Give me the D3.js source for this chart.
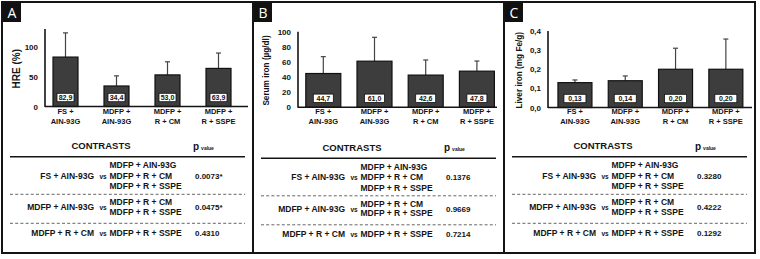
<!DOCTYPE html>
<html><head><meta charset="utf-8">
<script src="https://cdn.jsdelivr.net/npm/d3@7"></script>
<style>
html,body{margin:0;padding:0;background:#fff;}
svg{display:block;font-family:"Liberation Sans",Arial,sans-serif;font-weight:bold;}
</style></head>
<body>
<svg id="chart" width="760" height="259"></svg>
<script>
// ---------- data ----------
const groupLine1 = ["FS +", "MDFP +", "MDFP +", "MDFP +"];
const groupLine2 = ["AIN-93G", "AIN-93G", "R + CM", "R + SSPE"];
const groupKeys = ["g1", "g2", "g3", "g4"];

const hreMeans = [82.9, 34.4, 53.0, 63.9];
const hreSD = [40.6, 17.0, 22.0, 25.8];
const hreTicks = [0, 50, 100];

const serumMeans = [44.7, 61.0, 42.6, 47.8];
const serumSD = [22.3, 31.6, 20.0, 13.4];
const serumTicks = [0, 20, 40, 60, 80, 100];

const liverMeans = [0.13, 0.14, 0.20, 0.20];
const liverSD = [0.014, 0.025, 0.11, 0.158];
const liverTicks = [0, 0.1, 0.2, 0.3, 0.4];

const contrastLeft = ["FS + AIN-93G", "MDFP + AIN-93G", "MDFP + R + CM"];
const contrastRight = [
  ["MDFP + AIN-93G", "MDFP + R + CM", "MDFP + R + SSPE"],
  ["MDFP + R + CM", "MDFP + R + SSPE"],
  ["MDFP + R + SSPE"]
];
const pValuesA = ["0.0073*", "0.0475*", "0.4310"];
const pValuesB = ["0.1376", "0.9669", "0.7214"];
const pValuesC = ["0.3280", "0.4222", "0.1292"];

// ---------- layout ----------
const comma = d3.formatLocale({decimal: ",", thousands: ".", grouping: [3], currency: ["", ""]});
const panels = [
  {letter: "A", x0: 2, x1: 253, label: "HRE (%)", labelX: 16, labelSize: 10,
   means: hreMeans, sd: hreSD, ticks: hreTicks, domain: [0, 130], yRange: [106.5, 29], axisTop: 130,
   axisX: 45, axisEnd: 248, xr: [40, 244], barW: 25, boxW: 17, fmt: comma.format(".1f"), tickFmt: d3.format("d"),
   p: pValuesA, tdy: 0},
  {letter: "B", x0: 253, x1: 504, label: "Serum iron  (µg/dl)", labelX: 266, labelSize: 8.2,
   means: serumMeans, sd: serumSD, ticks: serumTicks, domain: [0, 100], yRange: [107.3, 31.7], axisTop: 100,
   axisX: 298, axisEnd: 497, xr: [297.7, 502.5], barW: 35, boxW: 20, fmt: comma.format(".1f"), tickFmt: d3.format("d"),
   p: pValuesB, tdy: 1.5},
  {letter: "C", x0: 504, x1: 755, label: "Liver iron  (mg Fe/g)", labelX: 519, labelSize: 8.2,
   means: liverMeans, sd: liverSD, ticks: liverTicks, domain: [0, 0.4], yRange: [107.5, 31], axisTop: 0.4,
   axisX: 548, axisEnd: 752, xr: [549.8, 751], barW: 34, boxW: 22, fmt: comma.format(".2f"), tickFmt: comma.format(".1f"),
   p: pValuesC, tdy: 0}
];

const svg = d3.select("#chart");
const ink = "#141414";

panels.forEach(P => {
  const g = svg.append("g");
  // panel border
  g.append("rect").attr("x", P.x0).attr("y", 2).attr("width", P.x1 - P.x0).attr("height", 251)
    .attr("fill", "none").attr("stroke", ink).attr("stroke-width", 2);
  // letter box
  g.append("rect").attr("x", P.x0 + 1).attr("y", 3).attr("width", 18).attr("height", 19).attr("fill", "#111");
  g.append("text").attr("x", P.x0 + 10).attr("y", 18).attr("text-anchor", "middle")
    .attr("fill", "#fff").style("font-family", "'Open Sans',sans-serif").style("font-weight", "normal")
    .style("font-size", "14px").text(P.letter);

  const x = d3.scalePoint().domain(groupKeys).range(P.xr).padding(0.5);
  const y = d3.scaleLinear().domain(P.domain).range(P.yRange);

  // y label
  g.append("text").attr("transform", `translate(${P.labelX},${(y(0) + y(P.axisTop)) / 2 + 1}) rotate(-90)`)
    .attr("text-anchor", "middle").attr("dominant-baseline", "central")
    .style("font-size", P.labelSize + "px").attr("fill", ink).text(P.label);

  // y ticks via axis
  const ax = g.append("g").attr("transform", `translate(${P.axisX},0)`)
    .call(d3.axisLeft(y).tickValues(P.ticks).tickSize(0).tickPadding(7).tickFormat(P.tickFmt));
  ax.select(".domain").remove();
  ax.selectAll("text").style("font-size", "8px").style("font-weight", "bold")
    .style("font-family", "'Liberation Sans',Arial,sans-serif").attr("fill", ink);

  // error bars (upper only)
  groupKeys.forEach((k, i) => {
    const cx = x(k);
    const top = y(P.means[i] + P.sd[i]);
    g.append("line").attr("x1", cx).attr("x2", cx).attr("y1", y(P.means[i])).attr("y2", top)
      .attr("stroke", "#444").attr("stroke-width", 1.2);
    g.append("line").attr("x1", cx - 2.5).attr("x2", cx + 2.5).attr("y1", top).attr("y2", top)
      .attr("stroke", "#444").attr("stroke-width", 1.2);
  });

  // bars
  g.selectAll("rect.bar").data(P.means).enter().append("rect").attr("class", "bar")
    .attr("x", (d, i) => x(groupKeys[i]) - P.barW / 2)
    .attr("y", d => y(d))
    .attr("width", P.barW)
    .attr("height", d => y(0) - y(d))
    .attr("fill", "#3d3d3d").attr("stroke", "#111").attr("stroke-width", 1.2);

  // value boxes
  P.means.forEach((d, i) => {
    const cx = x(groupKeys[i]);
    g.append("rect").attr("x", cx - P.boxW / 2).attr("y", y(0) - 13.2).attr("width", P.boxW).attr("height", 8.4)
      .attr("fill", "#fff").attr("stroke", "#111").attr("stroke-width", 0.8);
    g.append("text").attr("x", cx).attr("y", y(0) - 6.3).attr("text-anchor", "middle")
      .style("font-size", "7px").attr("fill", ink).text(P.fmt(d));
  });

  // axis lines
  g.append("line").attr("x1", P.axisX).attr("x2", P.axisX).attr("y1", y(P.axisTop)).attr("y2", y(0) + 0.5)
    .attr("stroke", ink).attr("stroke-width", 1.6);
  g.append("line").attr("x1", P.axisX).attr("x2", P.axisEnd).attr("y1", y(0)).attr("y2", y(0))
    .attr("stroke", ink).attr("stroke-width", 1.6);

  // category labels
  groupKeys.forEach((k, i) => {
    const t = g.append("text").attr("text-anchor", "middle").style("font-size", "7.5px").attr("fill", ink);
    t.append("tspan").attr("x", x(k)).attr("y", 114).text(groupLine1[i]);
    t.append("tspan").attr("x", x(k)).attr("y", 124).text(groupLine2[i]);
  });

  // ---------- contrasts table ----------
  const L = P.x0, dy = P.tdy;
  g.append("text").attr("x", L + 99).attr("y", 149 + dy).attr("text-anchor", "middle")
    .style("font-size", "9.5px").attr("fill", ink).text("CONTRASTS");
  const ph = g.append("text").attr("x", L + 191).attr("y", 149.5 + dy).attr("fill", ink);
  ph.append("tspan").style("font-size", "10px").text("p");
  ph.append("tspan").style("font-size", "5px").attr("dx", 2).text("value");
  g.append("line").attr("x1", L + 8).attr("x2", L + 243).attr("y1", 156.7 + dy).attr("y2", 156.7 + dy)
    .attr("stroke", ink).attr("stroke-width", 1.6);

  const rowCenters = [175.7, 207, 232.7];
  const lineGaps = [10.4, 9.4, 0];
  const dashYs = [194.3, 223.3];
  contrastLeft.forEach((c, r) => {
    const cy = rowCenters[r] + dy;
    g.append("text").attr("x", L + 92).attr("y", cy + 3).attr("text-anchor", "end")
      .style("font-size", "8.5px").attr("fill", ink).text(c);
    g.append("text").attr("x", L + 101).attr("y", cy + 3).attr("text-anchor", "middle")
      .style("font-size", "6.5px").attr("fill", ink).text("vs");
    const lines = contrastRight[r];
    lines.forEach((s, j) => {
      const ly = cy + (j - (lines.length - 1) / 2) * lineGaps[r];
      g.append("text").attr("x", L + 107.5).attr("y", ly + 3)
        .style("font-size", "8.5px").attr("fill", ink).text(s);
    });
    g.append("text").attr("x", L + 193).attr("y", cy + 3)
      .style("font-size", "8px").attr("fill", ink).text(P.p[r]);
  });
  dashYs.forEach(dyy => {
    g.append("line").attr("x1", L + 8).attr("x2", L + 243).attr("y1", dyy + dy).attr("y2", dyy + dy)
      .attr("stroke", "#666").attr("stroke-width", 1).attr("stroke-dasharray", "3,2.2");
  });
});
</script>
</body></html>
